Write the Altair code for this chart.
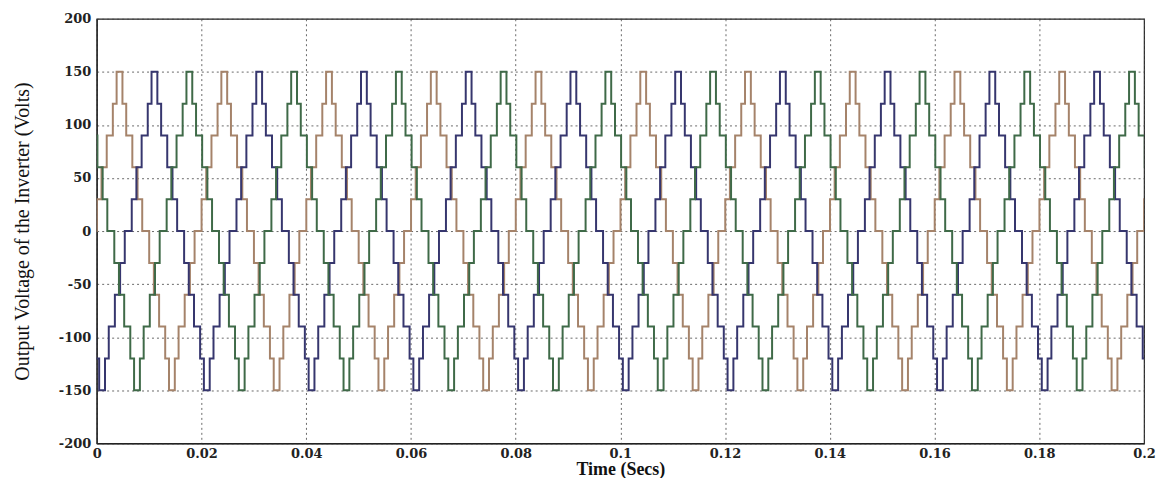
import altair as alt
import pandas as pd

# One period of the 11-level staircase (phase angle in degrees -> voltage level)
step_angles_deg = [0, 12, 28, 46, 67, 80, 100, 113, 134, 152, 168,
                   192, 208, 226, 247, 260, 280, 293, 314, 332, 348]
step_levels = [0, 30, 60, 90, 120, 150, 120, 90, 60, 30, 0,
               -30, -60, -90, -120, -150, -120, -90, -60, -30, 0]

phases = ["Phase A", "Phase B", "Phase C"]
phase_lead_deg = [11.5, -108.5, -228.5]      # phase angle at t = 0
phase_colors = ["#a5836a", "#36366e", "#3f6a48"]

period_s = 0.02
n_cycles = [-1, 0, 1, 2, 3, 4, 5, 6, 7, 8, 9, 10, 11]

x_ticks = [0, 0.02, 0.04, 0.06, 0.08, 0.1, 0.12, 0.14, 0.16, 0.18, 0.2]
y_ticks = [-200, -150, -100, -50, 0, 50, 100, 150, 200]

rows = []
for name, lead in zip(phases, phase_lead_deg):
    for k in n_cycles:
        for ang, lev in zip(step_angles_deg, step_levels):
            t = (k * 360 + ang - lead) / 360.0 * period_s
            rows.append({"t": t, "v": lev, "phase": name})
df = pd.DataFrame(rows)

serif = "Liberation Serif"
tick_font = "DejaVu Serif"

chart = alt.Chart(df).mark_line(
    interpolate="step-after", clip=True, strokeWidth=2
).encode(
    x=alt.X("t:Q",
            scale=alt.Scale(domain=[0, 0.2], nice=False, zero=False),
            axis=alt.Axis(values=x_ticks, title="Time (Secs)", format="~g")),
    y=alt.Y("v:Q",
            scale=alt.Scale(domain=[-200, 200], nice=False),
            axis=alt.Axis(values=y_ticks, title="Output Voltage of the Inverter (Volts)",
                          labelExpr="datum.value < 0 ? '-' + format(-datum.value, 'd') : format(datum.value, 'd')")),
    color=alt.Color("phase:N",
                    scale=alt.Scale(domain=phases, range=phase_colors),
                    legend=None),
    order=alt.Order("t:Q"),
).properties(
    width=1051,
    height=426,
    autosize=alt.AutoSizeParams(type="none"),
    padding={"left": 89, "top": 10, "right": 12, "bottom": 34},
).configure_view(
    stroke="#222222", strokeWidth=1.2, fill="white"
).configure_axis(
    grid=True,
    gridColor="#444444",
    gridDash=[2, 3],
    gridOpacity=0.8,
    gridWidth=1,
    domainColor="#222222",
    domainWidth=1.2,
    ticks=False,
    labelFont=tick_font,
    labelFontWeight="bold",
    labelFontSize=13,
    labelColor="#222222",
    titleFont=serif,
    titleColor="#111111",
).configure_axisX(
    titleFontSize=18,
    titleFontWeight="bold",
    titlePadding=0,
    labelPadding=4,
    labelFlush=False,
).configure_axisY(
    titleFontSize=20,
    titleFontWeight="normal",
    titlePadding=26,
    labelPadding=6,
)

chart.save("out.html", embed_options={"renderer": "svg", "actions": False})
